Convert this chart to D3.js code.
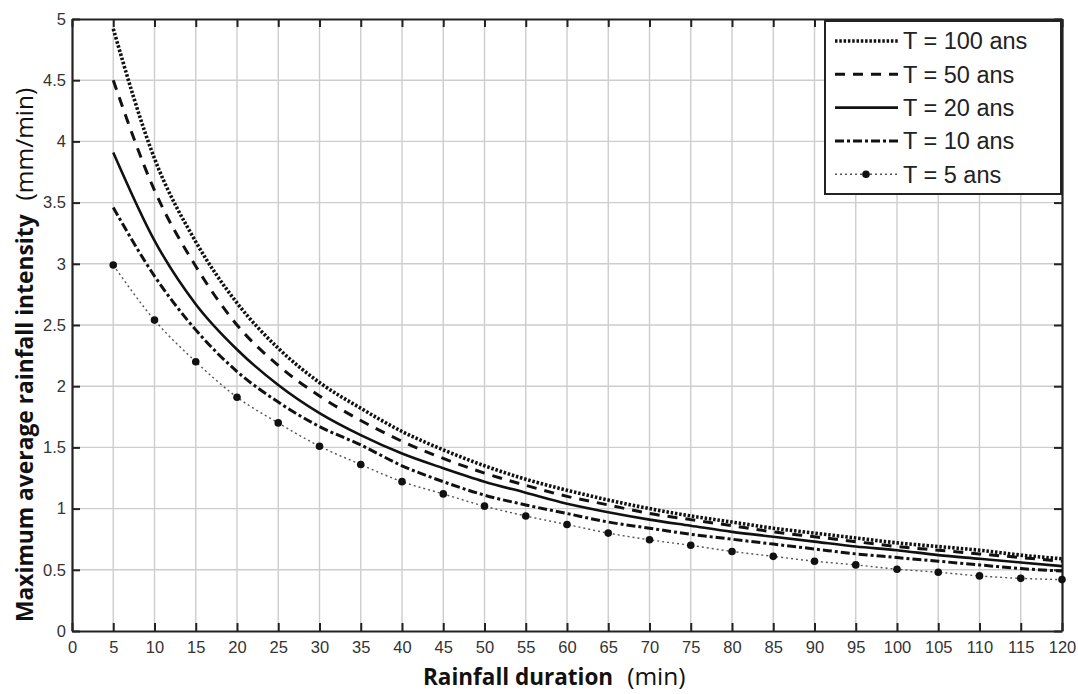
<!DOCTYPE html>
<html>
<head>
<meta charset="utf-8">
<script src="https://cdn.jsdelivr.net/npm/d3@7"></script>
<style>
  body { margin: 0; background: #fff; }
  svg { display: block; }
  .tick text { font-family: "Liberation Sans", Arial, sans-serif; }
</style>
</head>
<body>
<script>
// durations (min) and intensities (mm/min)
const durations = [5,10,15,20,25,30,35,40,45,50,55,60,65,70,75,80,85,90,95,100,105,110,115,120]
const t100 = [4.92,3.86,3.18,2.68,2.31,2.03,1.82,1.63,1.48,1.35,1.24,1.15,1.07,1.00,0.94,0.89,0.84,0.80,0.76,0.72,0.69,0.66,0.62,0.59]
const t50  = [4.50,3.60,2.98,2.50,2.17,1.92,1.72,1.55,1.41,1.29,1.19,1.10,1.03,0.96,0.91,0.86,0.81,0.77,0.73,0.69,0.66,0.63,0.60,0.57]
const t20  = [3.91,3.19,2.67,2.30,2.01,1.78,1.60,1.45,1.33,1.22,1.13,1.04,0.97,0.91,0.86,0.81,0.77,0.73,0.69,0.66,0.62,0.59,0.56,0.53]
const t10  = [3.46,2.90,2.46,2.12,1.87,1.67,1.52,1.35,1.22,1.11,1.03,0.96,0.89,0.84,0.79,0.75,0.71,0.67,0.63,0.60,0.57,0.54,0.51,0.49]
const t5   = [2.99,2.54,2.20,1.91,1.70,1.51,1.36,1.22,1.12,1.02,0.94,0.87,0.80,0.745,0.70,0.65,0.61,0.57,0.54,0.505,0.48,0.45,0.43,0.42]
const seriesNames = ["T = 100 ans","T = 50 ans","T = 20 ans","T = 10 ans","T = 5 ans"]
const xTicks = d3.range(0, 121, 5)
const yTicks = [0,0.5,1,1.5,2,2.5,3,3.5,4,4.5,5]

const width = 1078
const height = 694
const m = {left: 72, right: 16, top: 19, bottom: 63}

const styles = [
  {dash: "2.5,1.8", w: 3.6, color: "#111"},
  {dash: "10,8", w: 3, color: "#111"},
  {dash: null, w: 2.6, color: "#111"},
  {dash: "9,3,3,3", w: 3, color: "#111"},
  {dash: "2,3", w: 1.4, color: "#555", dots: true}
]
const allSeries = [t100, t50, t20, t10, t5]

const x = d3.scaleLinear().domain([0,120]).range([m.left, width-m.right])
const y = d3.scaleLinear().domain([0,5]).range([height-m.bottom, m.top])

const svg = d3.select("body").append("svg")
  .attr("width", width)
  .attr("height", height)

// grid
svg.append("g").selectAll("line.vg")
  .data(xTicks.slice(1, -1))
  .enter().append("line")
  .attr("x1", d=>x(d)).attr("x2", d=>x(d))
  .attr("y1", y(5)).attr("y2", y(0))
  .attr("stroke", "#cdcdcd").attr("stroke-width", 1.4)

svg.append("g").selectAll("line.hg")
  .data(yTicks.slice(1, -1))
  .enter().append("line")
  .attr("x1", x(0)).attr("x2", x(120))
  .attr("y1", d=>y(d)).attr("y2", d=>y(d))
  .attr("stroke", "#cdcdcd").attr("stroke-width", 1.4)

// axes (ticks pointing inward)
const xAxis = svg.append("g")
  .attr("transform", "translate(0,"+y(0)+")")
  .call(d3.axisBottom(x).tickValues(xTicks).tickSizeInner(-8).tickSizeOuter(0).tickPadding(10))
xAxis.selectAll("text").attr("font-size", 16.5).attr("fill", "#333")

svg.append("g")
  .attr("transform", "translate(0,"+y(5)+")")
  .call(d3.axisTop(x).tickValues(xTicks).tickSizeInner(-8).tickSizeOuter(0).tickFormat(""))

const yAxis = svg.append("g")
  .attr("transform", "translate("+x(0)+",0)")
  .call(d3.axisLeft(y).tickValues(yTicks).tickSizeInner(-8).tickSizeOuter(0).tickPadding(6).tickFormat(d=>String(d)))
yAxis.selectAll("text").attr("font-size", 16.5).attr("fill", "#333")

svg.append("g")
  .attr("transform", "translate("+x(120)+",0)")
  .call(d3.axisRight(y).tickValues(yTicks).tickSizeInner(-8).tickSizeOuter(0).tickFormat(""))

svg.selectAll(".domain").attr("stroke", "#222").attr("stroke-width", 2.2)
svg.selectAll(".tick line").attr("stroke", "#222").attr("stroke-width", 2)

// curves
const line = d3.line().x((d,i)=>x(durations[i])).y(d=>y(d)).curve(d3.curveMonotoneX)

allSeries.forEach((s, k) => {
  const st = styles[k]
  svg.append("path")
    .attr("d", line(s))
    .attr("fill", "none")
    .attr("stroke", st.color)
    .attr("stroke-width", st.w)
    .attr("stroke-dasharray", st.dash)
  if (st.dots) {
    svg.append("g").selectAll("circle")
      .data(s).enter().append("circle")
      .attr("cx", (d,i)=>x(durations[i]))
      .attr("cy", d=>y(d))
      .attr("r", 3.8)
      .attr("fill", "#111")
  }
})

// legend
const lg = svg.append("g")
lg.append("rect")
  .attr("x", 825).attr("y", 21).attr("width", 236).attr("height", 173)
  .attr("fill", "#fff").attr("stroke", "#222").attr("stroke-width", 2)

seriesNames.forEach((name, k) => {
  const st = styles[k]
  const cy = 41 + k*33.3
  lg.append("line")
    .attr("x1", 835).attr("x2", 898).attr("y1", cy).attr("y2", cy)
    .attr("stroke", st.color).attr("stroke-width", st.w)
    .attr("stroke-dasharray", st.dash)
  if (st.dots) {
    lg.append("circle").attr("cx", 866).attr("cy", cy).attr("r", 3.8).attr("fill", "#111")
  }
  lg.append("text")
    .attr("x", 903).attr("y", cy)
    .attr("dy", "0.36em")
    .attr("font-family", "Liberation Sans, Arial, sans-serif")
    .attr("font-size", 23.5)
    .attr("fill", "#222")
    .text(name)
})

// axis titles
const xt = svg.append("text")
  .attr("x", 423).attr("y", 685)
  .attr("font-family", "Open Sans, sans-serif")
  .attr("fill", "#111")
xt.append("tspan").attr("font-weight", "bold").attr("font-size", 22.5).text("Rainfall duration")
xt.append("tspan").attr("font-size", 24.5).attr("dx", 14).text("(min)")

const yt = svg.append("text")
  .attr("transform", "translate(33,622) rotate(-90)")
  .attr("font-family", "Open Sans, sans-serif")
  .attr("fill", "#111")
yt.append("tspan").attr("font-weight", "bold").attr("font-size", 22.8).text("Maximum average rainfall intensity")
yt.append("tspan").attr("font-size", 24.5).attr("dx", 14).text("(mm/min)")
</script>
</body>
</html>
